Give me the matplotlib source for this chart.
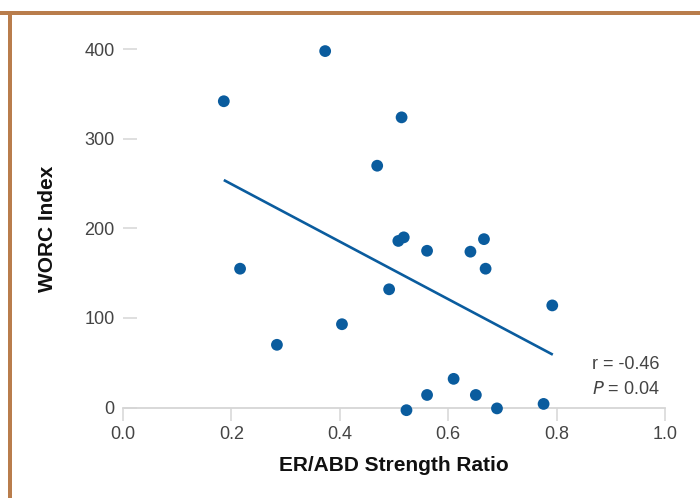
import matplotlib
matplotlib.use("Agg")
import matplotlib.pyplot as plt
from matplotlib.patches import Rectangle

plt.rcParams['font.family'] = ['Liberation Sans', 'DejaVu Sans']

# Data
er_abd_ratio = [0.186, 0.373, 0.514, 0.469, 0.508, 0.518, 0.561, 0.641, 0.666, 0.669,
                0.491, 0.216, 0.404, 0.284, 0.792, 0.610, 0.561, 0.651, 0.523, 0.690, 0.776]
worc_index = [342, 398, 324, 270, 186, 190, 175, 174, 188, 155,
              132, 155, 93, 70, 114, 32, 14, 14, -3, -1, 4]
fit_x = [0.186, 0.793]
fit_y = [254, 59]
x_ticks = [0.0, 0.2, 0.4, 0.6, 0.8, 1.0]
x_tick_labels = ['0.0', '0.2', '0.4', '0.6', '0.8', '1.0']
y_ticks = [0, 100, 200, 300, 400]
y_tick_labels = ['0', '100', '200', '300', '400']

W, H = 700, 498
fig = plt.figure(figsize=(7, 4.98), dpi=100)
left, right = 123 / W, 665 / W
bottom, top = 1 - 407.5 / H, 1 - 49.3 / H
ax = fig.add_axes([left, bottom, right - left, top - bottom])

blue = '#0a5c9e'
ax.plot(fit_x, fit_y, color=blue, lw=1.9, solid_capstyle='butt', zorder=2)
ax.scatter(er_abd_ratio, worc_index, s=72, color=blue, edgecolors='none', zorder=3, clip_on=False)

ax.set_xlim(0, 1)
ax.set_ylim(0, 400)
ax.set_xticks(x_ticks)
ax.set_xticklabels(x_tick_labels)
ax.set_yticks(y_ticks)
ax.set_yticklabels(y_tick_labels)

for s in ['top', 'right', 'left']:
    ax.spines[s].set_visible(False)
ax.spines['bottom'].set_color('#d6d6d6')
ax.spines['bottom'].set_linewidth(1.3)

ax.tick_params(axis='x', direction='out', length=9, width=1.1, color='#d6d6d6',
               labelsize=13, labelcolor='#444444', pad=4)
ax.tick_params(axis='y', direction='in', length=10, width=1.1, color='#d6d6d6',
               labelsize=13, labelcolor='#444444', pad=6)

ax.set_xlabel('ER/ABD Strength Ratio', fontsize=15, fontweight='bold', color='#111111', labelpad=10)
ax.set_ylabel('WORC Index', fontsize=15, fontweight='bold', color='#111111', labelpad=20)

ax.text(0.99, 0.12, 'r = -0.46', transform=ax.transAxes, ha='right', va='center',
        fontsize=13, color='#444444')
ax.text(0.99, 0.05, r'$\it{P}$ = 0.04', transform=ax.transAxes, ha='right', va='center',
        fontsize=13, color='#444444')

# Brown frame (top and left)
brown = '#b97d4c'
fig.add_artist(Rectangle((0, 1 - 15 / H), 1, 4 / H, transform=fig.transFigure,
                         facecolor=brown, edgecolor='none'))
fig.add_artist(Rectangle((8 / W, 0), 4 / W, 1 - 11 / H, transform=fig.transFigure,
                         facecolor=brown, edgecolor='none'))

fig.savefig('out.png', dpi=100)
